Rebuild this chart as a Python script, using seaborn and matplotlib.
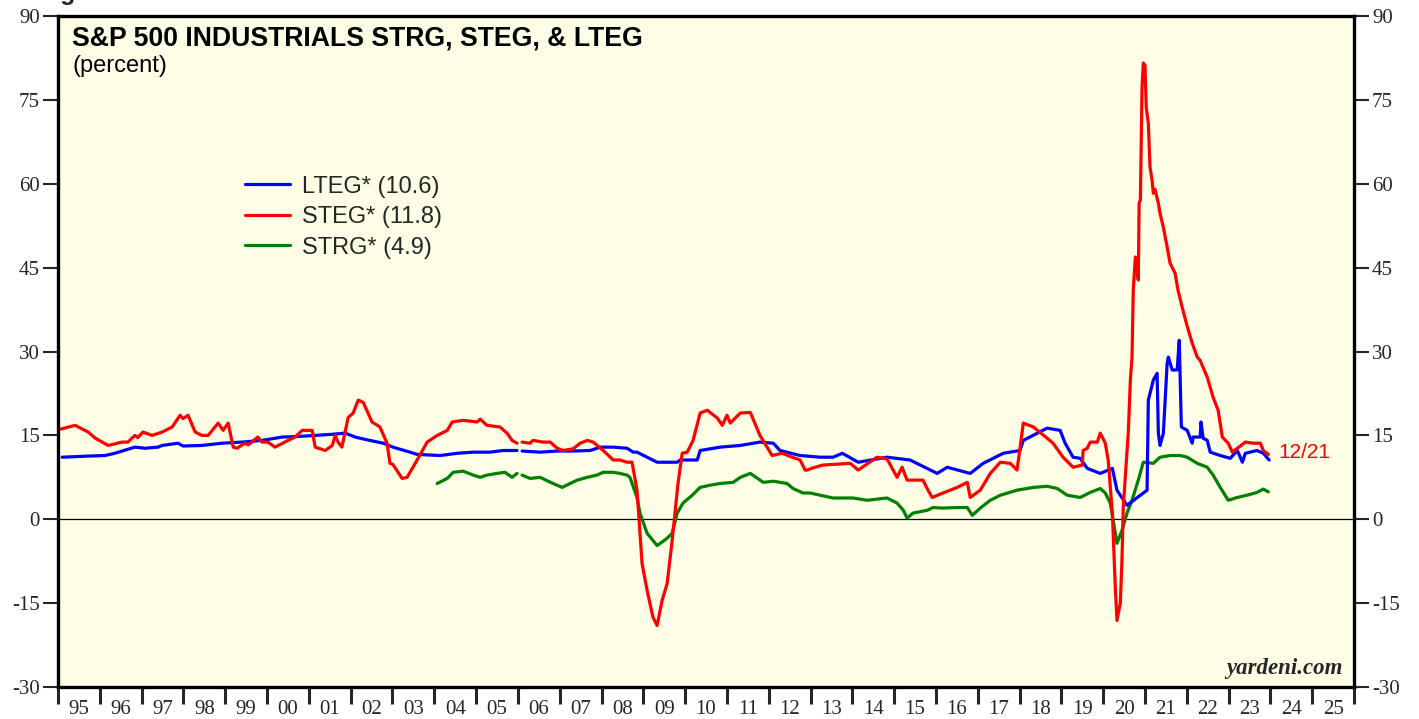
import numpy as np
import pandas as pd
import seaborn as sns
import matplotlib
matplotlib.use("Agg")
import matplotlib.pyplot as plt
from matplotlib.lines import Line2D

# LTEG (blue), decimal years; NaN marks the 2006 data break
lteg_t = [1995.10, 1995.72, 1996.12, 1996.36, 1996.53, 1996.84, 1997.08, 1997.39, 1997.49, 1997.87,
          1997.99, 1998.44, 1998.92, 1999.40, 1999.88, 2000.36, 2000.74, 2001.15, 2001.56, 2001.87,
          2002.11, 2002.22, 2002.46, 2002.78, 2003.01, 2003.42, 2003.59, 2004.14, 2004.55, 2004.93,
          2005.33, 2005.65, 2005.98, 2006.04, 2006.10, 2006.53, 2006.94, 2007.32, 2007.73, 2007.97,
          2008.28, 2008.61, 2008.76, 2008.85, 2009.33, 2009.81, 2009.88, 2010.29, 2010.36, 2010.84,
          2011.32, 2011.79, 2012.11, 2012.27, 2012.75, 2013.23, 2013.54, 2013.76, 2014.14, 2014.83,
          2015.38, 2016.03, 2016.27, 2016.82, 2017.13, 2017.61, 2018.01, 2018.09, 2018.66, 2018.97,
          2019.09, 2019.28, 2019.45, 2019.62, 2019.93, 2020.22, 2020.33, 2020.57, 2021.05, 2021.08,
          2021.20, 2021.29, 2021.32, 2021.36, 2021.44, 2021.53, 2021.56, 2021.65, 2021.77, 2021.82,
          2021.87, 2022.01, 2022.13, 2022.15, 2022.32, 2022.34, 2022.39, 2022.49, 2022.56, 2022.80,
          2023.04, 2023.21, 2023.33, 2023.40, 2023.68, 2023.83, 2023.97]
lteg_v = [11.1, 11.3, 11.4, 11.8, 12.2, 12.9, 12.7, 12.9, 13.2, 13.6,
          13.1, 13.2, 13.6, 13.8, 14.1, 14.7, 14.8, 15.0, 15.2, 15.4,
          14.7, 14.5, 14.1, 13.6, 12.9, 12.0, 11.6, 11.4, 11.8, 12.0,
          12.0, 12.3, 12.3, np.nan, 12.2, 12.0, 12.2, 12.2, 12.3, 12.9,
          12.9, 12.7, 12.0, 12.0, 10.2, 10.2, 10.6, 10.6, 12.3, 12.9,
          13.2, 13.8, 13.6, 12.3, 11.4, 11.1, 11.1, 11.8, 10.2, 11.1,
          10.6, 8.2, 9.3, 8.2, 10.0, 11.8, 12.3, 14.1, 16.3, 15.9,
          13.6, 11.1, 10.9, 9.1, 8.2, 9.1, 5.2, 2.5, 5.2, 21.3,
          24.9, 26.1, 15.4, 13.2, 15.4, 27.9, 29.0, 26.7, 26.7, 32.0,
          16.5, 15.9, 13.6, 14.7, 14.7, 17.4, 14.5, 14.1, 12.0, 11.4,
          10.9, 12.3, 10.2, 11.8, 12.3, 11.8, 10.6]

# STEG (red)
steg_t = [1995.00, 1995.41, 1995.72, 1995.89, 1996.20, 1996.53, 1996.67, 1996.84, 1996.91, 1997.03,
          1997.25, 1997.49, 1997.73, 1997.92, 1997.99, 1998.11, 1998.28, 1998.44, 1998.59, 1998.83,
          1998.95, 1999.07, 1999.19, 1999.28, 1999.47, 1999.55, 1999.78, 1999.88, 2000.02, 2000.19,
          2000.50, 2000.67, 2000.84, 2001.08, 2001.15, 2001.39, 2001.56, 2001.63, 2001.70, 2001.79,
          2001.94, 2002.06, 2002.18, 2002.30, 2002.51, 2002.70, 2002.87, 2002.94, 2003.01, 2003.23,
          2003.35, 2003.59, 2003.83, 2004.07, 2004.31, 2004.43, 2004.69, 2005.02, 2005.10, 2005.26,
          2005.57, 2005.74, 2005.86, 2005.98, 2006.04, 2006.10, 2006.29, 2006.36, 2006.60, 2006.77,
          2006.94, 2007.08, 2007.32, 2007.49, 2007.66, 2007.80, 2008.04, 2008.28, 2008.44, 2008.61,
          2008.73, 2008.85, 2008.97, 2009.09, 2009.23, 2009.33, 2009.45, 2009.57, 2009.69, 2009.83,
          2009.93, 2010.05, 2010.19, 2010.36, 2010.53, 2010.77, 2010.89, 2011.00, 2011.08, 2011.32,
          2011.56, 2011.79, 2011.96, 2012.08, 2012.32, 2012.56, 2012.75, 2012.87, 2012.92, 2013.06,
          2013.30, 2013.95, 2014.14, 2014.59, 2014.83, 2015.07, 2015.19, 2015.31, 2015.69, 2015.81,
          2015.91, 2016.17, 2016.51, 2016.75, 2016.82, 2017.06, 2017.30, 2017.54, 2017.78, 2017.94,
          2018.09, 2018.33, 2018.66, 2018.80, 2019.04, 2019.28, 2019.50, 2019.52, 2019.62, 2019.69,
          2019.86, 2019.93, 2020.05, 2020.12, 2020.22, 2020.29, 2020.33, 2020.41, 2020.45, 2020.48,
          2020.60, 2020.65, 2020.69, 2020.72, 2020.77, 2020.84, 2020.86, 2020.89, 2020.93, 2020.96,
          2021.00, 2021.03, 2021.08, 2021.12, 2021.17, 2021.20, 2021.24, 2021.32, 2021.36, 2021.44,
          2021.53, 2021.60, 2021.72, 2021.79, 2021.89, 2022.01, 2022.13, 2022.25, 2022.32, 2022.49,
          2022.63, 2022.75, 2022.85, 2022.99, 2023.09, 2023.21, 2023.40, 2023.59, 2023.76, 2023.83,
          2023.95]
steg_v = [16.0, 16.8, 15.6, 14.5, 13.2, 13.8, 13.8, 15.0, 14.6, 15.6,
          15.0, 15.6, 16.5, 18.6, 18.0, 18.6, 15.6, 15.0, 15.0, 17.2,
          15.9, 17.2, 12.9, 12.7, 13.6, 13.3, 14.7, 13.8, 13.8, 12.9,
          14.1, 14.7, 15.9, 15.9, 12.9, 12.3, 13.2, 15.0, 13.8, 12.9,
          18.2, 19.0, 21.3, 20.9, 17.4, 16.5, 13.6, 10.0, 9.8, 7.3,
          7.5, 10.6, 13.8, 15.0, 15.9, 17.4, 17.7, 17.4, 17.9, 16.8,
          16.5, 15.4, 14.1, 13.6, np.nan, 13.8, 13.6, 14.1, 13.8, 13.8,
          12.7, 12.3, 12.6, 13.6, 14.1, 13.8, 12.3, 10.6, 10.6, 10.2,
          10.2, 5.2, -7.9, -12.7, -17.5, -19.0, -14.5, -11.5, -3.8, 6.4,
          11.8, 12.0, 14.1, 19.0, 19.5, 18.1, 16.8, 18.6, 17.2, 19.0,
          19.1, 15.0, 12.9, 11.4, 11.8, 11.1, 10.6, 8.8, 8.8, 9.2,
          9.7, 10.0, 8.8, 11.1, 10.8, 7.5, 9.3, 7.0, 7.0, 5.2,
          3.9, 4.7, 5.7, 6.6, 3.9, 5.2, 8.2, 10.2, 10.0, 8.8,
          17.2, 16.5, 14.5, 13.6, 11.1, 9.3, 9.7, 12.3, 12.7, 13.8,
          13.8, 15.4, 13.6, 10.6, 1.1, -12.2, -18.1, -15.0, -7.3, 2.1,
          15.4, 24.9, 29.0, 41.0, 46.9, 42.8, 56.5, 57.1, 77.3, 81.6,
          81.2, 73.7, 70.8, 63.0, 60.6, 58.3, 59.0, 56.5, 54.7, 52.2,
          48.7, 45.8, 44.0, 41.0, 37.9, 34.5, 31.5, 29.0, 28.4, 25.4,
          21.8, 19.5, 14.7, 13.6, 12.0, 12.7, 13.8, 13.6, 13.6, 12.3,
          11.6]

# STRG (green), starts in 2004
strg_t = [2004.07, 2004.31, 2004.45, 2004.69, 2004.93, 2005.10, 2005.26, 2005.50, 2005.69, 2005.86,
          2005.98, 2006.04, 2006.10, 2006.29, 2006.53, 2006.84, 2007.06, 2007.25, 2007.42, 2007.66,
          2007.89, 2008.04, 2008.28, 2008.44, 2008.61, 2008.68, 2008.85, 2008.92, 2009.09, 2009.33,
          2009.57, 2009.69, 2009.81, 2009.95, 2010.17, 2010.36, 2010.60, 2010.84, 2011.15, 2011.32,
          2011.56, 2011.87, 2012.11, 2012.44, 2012.58, 2012.82, 2012.99, 2013.23, 2013.54, 2014.02,
          2014.35, 2014.83, 2015.07, 2015.22, 2015.31, 2015.45, 2015.79, 2015.93, 2016.17, 2016.51,
          2016.75, 2016.87, 2017.06, 2017.30, 2017.54, 2017.94, 2018.33, 2018.66, 2018.90, 2019.14,
          2019.45, 2019.69, 2019.93, 2020.05, 2020.17, 2020.24, 2020.33, 2020.45, 2020.57, 2020.69,
          2020.84, 2020.96, 2021.20, 2021.36, 2021.60, 2021.84, 2022.01, 2022.25, 2022.49, 2022.63,
          2022.80, 2022.99, 2023.21, 2023.44, 2023.68, 2023.83, 2023.95]
strg_v = [6.4, 7.3, 8.4, 8.6, 7.9, 7.5, 7.9, 8.2, 8.4, 7.5,
          8.2, np.nan, 7.9, 7.3, 7.5, 6.4, 5.7, 6.4, 7.0, 7.5,
          7.9, 8.4, 8.4, 8.2, 7.9, 7.5, 3.9, 1.1, -2.5, -4.7,
          -3.4, -2.5, 1.1, 2.9, 4.3, 5.7, 6.1, 6.4, 6.6, 7.5,
          8.2, 6.6, 6.8, 6.4, 5.5, 4.7, 4.7, 4.3, 3.8, 3.8,
          3.4, 3.8, 2.9, 1.6, 0.2, 1.1, 1.6, 2.1, 2.0, 2.1,
          2.1, 0.7, 2.0, 3.4, 4.3, 5.2, 5.7, 5.9, 5.5, 4.3,
          3.9, 4.8, 5.5, 4.7, 2.9, -0.2, -4.3, -2.0, 1.1, 3.4,
          7.0, 10.2, 10.0, 11.1, 11.4, 11.4, 11.1, 10.0, 9.3, 7.9,
          5.7, 3.4, 3.9, 4.3, 4.8, 5.4, 4.9]

year_labels = ["95", "96", "97", "98", "99", "00", "01", "02", "03", "04", "05", "06", "07", "08",
               "09", "10", "11", "12", "13", "14", "15", "16", "17", "18", "19", "20", "21", "22",
               "23", "24", "25"]
y_ticks = [-30, -15, 0, 15, 30, 45, 60, 75, 90]


def to_frame(t, v):
    df = pd.DataFrame({"date": t, "value": v})
    df["seg"] = df["value"].isna().cumsum()
    return df.dropna()


sns.set_style("ticks")
plt.rcParams["font.family"] = ["Liberation Sans", "DejaVu Sans"]

fig = plt.figure(figsize=(14.19, 7.19), dpi=100)
ax = fig.add_axes([0.0409, 0.0445, 0.9133, 0.9332])
ax.set_facecolor("#fefee6")

series = [(strg_t, strg_v, "#008000"), (lteg_t, lteg_v, "#0000ff"), (steg_t, steg_v, "#ff0000")]
for t, v, c in series:
    sns.lineplot(data=to_frame(t, v), x="date", y="value", units="seg", estimator=None,
                 color=c, linewidth=2.3, ax=ax, legend=False)

ax.axhline(0, color="black", linewidth=0.9, zorder=1)

ax.set_xlim(1995, 2026)
ax.set_ylim(-30, 90)
ax.set_xlabel("")
ax.set_ylabel("")

ax.set_xticks(np.arange(1995, 2027))
ax.set_xticklabels([])
ax.set_xticks(np.arange(1995.5, 2026), minor=True)
ax.set_xticklabels(year_labels, minor=True, fontfamily="Liberation Serif", fontsize=15)
ax.tick_params(axis="x", which="major", direction="out", length=12, width=2.2)
ax.tick_params(axis="x", which="minor", length=0, pad=9)

ax.set_yticks(y_ticks)
ax.set_yticklabels([str(v) for v in y_ticks], fontfamily="Liberation Serif", fontsize=15)
ax.tick_params(axis="y", which="major", direction="out", length=11, width=1.5,
               left=True, right=True, labelleft=True, labelright=True, pad=2)

for s in ax.spines.values():
    s.set_visible(True)
    s.set_linewidth(2.4)
    s.set_color("black")

ax.text(0.0108, 0.986, "S&P 500 INDUSTRIALS STRG, STEG, & LTEG", transform=ax.transAxes,
        ha="left", va="top", fontsize=19.2, fontweight="bold", color="black")
ax.text(0.0108, 0.942, "(percent)", transform=ax.transAxes, ha="left", va="top", fontsize=17,
        color="black")

handles = [Line2D([], [], color="#0000ff", linewidth=2.3),
           Line2D([], [], color="#ff0000", linewidth=2.3),
           Line2D([], [], color="#008000", linewidth=2.3)]
ax.legend(handles, ["LTEG* (10.6)", "STEG* (11.8)", "STRG* (4.9)"], loc="upper left",
          bbox_to_anchor=(0.1443, 0.762), frameon=False, fontsize=17, handlelength=1.9,
          handletextpad=0.5, labelspacing=0.36, borderpad=0, borderaxespad=0)

ax.text(2024.2, 12.0, "12/21", color="#ff0000", fontsize=15, ha="left", va="center")
ax.text(0.9915, 0.012, "yardeni.com", transform=ax.transAxes, ha="right", va="bottom",
        fontsize=16.5, fontweight="bold", fontstyle="italic", fontfamily="Liberation Serif")

fig.text(0.027, 1.0, "Fig", fontsize=18, fontweight="bold", ha="left", va="baseline")

fig.savefig("out.png", dpi=100, facecolor="white")
